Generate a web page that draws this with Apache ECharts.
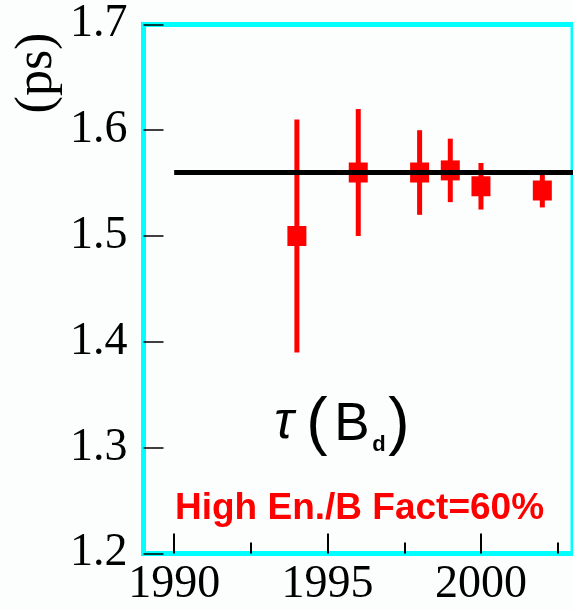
<!DOCTYPE html>
<html>
<head>
<meta charset="utf-8">
<script src="https://cdn.jsdelivr.net/npm/echarts@6/dist/echarts.min.js"></script>
<style>
  html, body { margin: 0; padding: 0; background: #fcfefe; }
  #chart { width: 573px; height: 610px; }
</style>
</head>
<body>
<div id="chart"></div>
<script>
// B_d lifetime measurements by year (ps)
const years = [1994, 1996, 1998, 1999, 2000, 2002];
const lifetimes = [1.500, 1.560, 1.560, 1.562, 1.547, 1.543];
const errors = [0.11, 0.06, 0.04, 0.03, 0.022, 0.016];

// reference average line
const averageValue = 1.56;
const averageSpan = [1990, 2003];

// axis ticks
const yearTicks = [1990, 1995, 2000];
const halfYearTicks = [1992.5, 1997.5, 2002.5];
const xRange = [1989, 2003];
const yRange = [1.2, 1.7];
const yStep = 0.1;

const errorData = years.map((y, i) => [y, lifetimes[i] - errors[i], lifetimes[i] + errors[i]]);
const pointData = years.map((y, i) => [y, lifetimes[i]]);
const averageData = averageSpan.map(x => [x, averageValue]);

const serif = '"Liberation Serif", "DejaVu Serif", serif';
const sans = '"Liberation Sans", Arial, sans-serif';

const chart = echarts.init(document.getElementById('chart'), null, { renderer: 'canvas' });

chart.setOption({
  backgroundColor: '#fcfefe',
  animation: false,
  grid: {
    left: 143.5, top: 24.4, width: 431, height: 529,
    show: true, borderColor: '#00ffff', borderWidth: 5,
    backgroundColor: 'transparent', z: 0
  },
  xAxis: [
    {
      type: 'value', min: xRange[0], max: xRange[1], position: 'bottom', z: 5,
      axisLine: { show: false, onZero: false },
      splitLine: { show: false },
      axisTick: {
        show: true, inside: true, length: 20, customValues: yearTicks,
        lineStyle: { color: '#000', width: 2 }
      },
      axisLabel: {
        show: true, customValues: yearTicks, margin: 9,
        color: '#000', fontFamily: serif, fontSize: 46,
        formatter: v => String(v)
      }
    },
    {
      type: 'value', min: xRange[0], max: xRange[1], position: 'bottom', z: 5,
      axisLine: { show: false, onZero: false },
      splitLine: { show: false },
      axisTick: {
        show: true, inside: true, length: 11, customValues: halfYearTicks,
        lineStyle: { color: '#000', width: 2 }
      },
      axisLabel: { show: false }
    }
  ],
  yAxis: {
    type: 'value', min: yRange[0], max: yRange[1], interval: yStep, z: 5,
    axisLine: { show: false, onZero: false },
    splitLine: { show: false },
    axisTick: { show: true, inside: true, length: 20, lineStyle: { color: '#000', width: 1.5 } },
    axisLabel: {
      margin: 16, color: '#000', fontFamily: serif, fontSize: 46,
      formatter: v => v.toFixed(1)
    }
  },
  series: [
    {
      type: 'custom',
      xAxisIndex: 0,
      data: errorData,
      encode: { x: 0, y: [1, 2] },
      z: 2,
      renderItem: (params, api) => {
        const x = api.value(0);
        const top = api.coord([x, api.value(2)]);
        const bottom = api.coord([x, api.value(1)]);
        return {
          type: 'rect',
          shape: { x: top[0] - 2.5, y: top[1], width: 5, height: bottom[1] - top[1] },
          style: { fill: '#ff0000' }
        };
      }
    },
    {
      type: 'scatter',
      xAxisIndex: 0,
      data: pointData,
      symbol: 'rect',
      symbolSize: [19, 20],
      itemStyle: { color: '#ff0000', opacity: 1 },
      z: 3
    },
    {
      type: 'line',
      xAxisIndex: 0,
      data: averageData,
      symbol: 'none',
      lineStyle: { color: '#000', width: 5 },
      z: 4
    }
  ],
  graphic: [
    {
      type: 'text', x: 37, y: 73, rotation: Math.PI / 2,
      style: { text: '(ps)', font: '52px ' + serif, fill: '#000', align: 'center', verticalAlign: 'middle' }
    },
    {
      type: 'group', z: 10,
      children: [
        { type: 'text', x: 284, y: 424, style: { text: 'τ', font: 'italic 52px ' + sans, fill: '#000', align: 'center', verticalAlign: 'middle' } },
        { type: 'text', x: 317, y: 425, style: { text: '(', font: '64px ' + sans, fill: '#000', align: 'center', verticalAlign: 'middle' } },
        { type: 'text', x: 352, y: 425, style: { text: 'B', font: '53px ' + sans, fill: '#000', align: 'center', verticalAlign: 'middle' } },
        { type: 'text', x: 379, y: 445, style: { text: 'd', font: 'bold 22px ' + sans, fill: '#000', align: 'center', verticalAlign: 'middle' } },
        { type: 'text', x: 399, y: 425, style: { text: ')', font: '64px ' + sans, fill: '#000', align: 'center', verticalAlign: 'middle' } }
      ]
    },
    {
      type: 'text', x: 175, y: 508.5, z: 10,
      style: { text: 'High En./B Fact=60%', font: 'bold 37px ' + sans, fill: '#ff0000', align: 'left', verticalAlign: 'middle' }
    }
  ]
});
</script>
</body>
</html>
